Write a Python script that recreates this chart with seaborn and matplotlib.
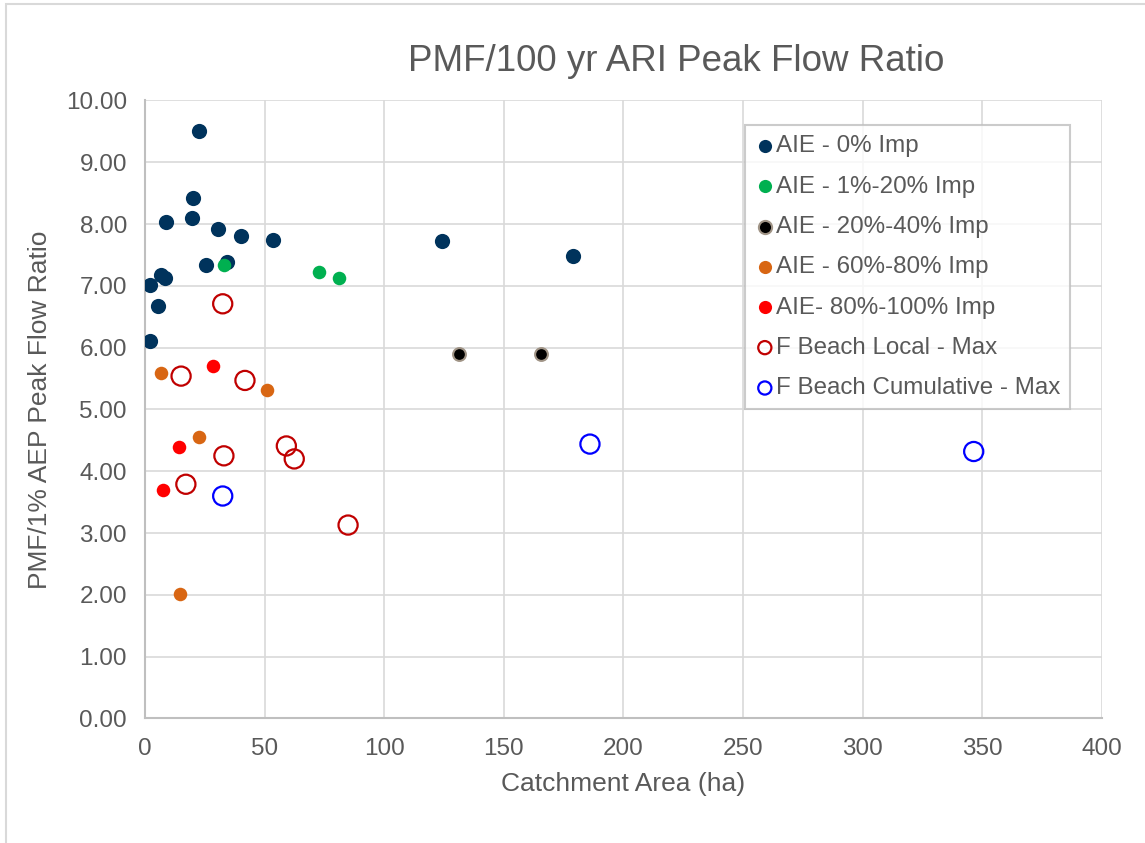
import matplotlib
matplotlib.use("Agg")
import matplotlib.pyplot as plt
import matplotlib.patches as patches
import seaborn as sns

# Dados
area_0imp = [22.6, 20.2, 8.7, 19.8, 30.5, 40.1, 53.6, 25.5, 34.4, 6.6, 8.5, 2.0, 5.4, 2.0, 124.3, 179.1]
ratio_0imp = [9.50, 8.43, 8.03, 8.10, 7.92, 7.80, 7.75, 7.33, 7.39, 7.17, 7.13, 7.01, 6.68, 6.11, 7.73, 7.48]

area_1_20 = [32.9, 72.7, 81.1]
ratio_1_20 = [7.34, 7.22, 7.12]

area_20_40 = [131.4, 165.7]
ratio_20_40 = [5.89, 5.89]

area_60_80 = [6.7, 50.9, 22.7, 14.5]
ratio_60_80 = [5.59, 5.32, 4.56, 2.01]

area_80_100 = [28.3, 14.2, 7.7]
ratio_80_100 = [5.70, 4.40, 3.69]

area_local = [32.5, 15.1, 41.8, 33.0, 59.1, 62.4, 17.1, 84.9]
ratio_local = [6.71, 5.54, 5.47, 4.25, 4.41, 4.20, 3.79, 3.13]

area_cum = [32.5, 186.0, 346.4]
ratio_cum = [3.60, 4.44, 4.32]

x_ticks = [0, 50, 100, 150, 200, 250, 300, 350, 400]
y_ticks = [0, 1, 2, 3, 4, 5, 6, 7, 8, 9, 10]

# Estilo
sns.set_theme(style="whitegrid")
plt.rcParams["font.family"] = ["Liberation Sans", "DejaVu Sans"]

cinza_texto = "#595959"

fig = plt.figure(figsize=(11.45, 8.43), dpi=100)
ax = fig.add_axes([0.1266, 0.1477, 0.8358, 0.7331])

series = [
    (area_0imp, ratio_0imp, "AIE - 0% Imp", dict(color="#00335C", s=120, edgecolor="#00335C", linewidth=0)),
    (area_1_20, ratio_1_20, "AIE - 1%-20% Imp", dict(color="#00B050", s=95, edgecolor="#00B050", linewidth=0)),
    (area_20_40, ratio_20_40, "AIE - 20%-40% Imp", dict(color="black", s=85, edgecolor="#A09486", linewidth=1.5)),
    (area_60_80, ratio_60_80, "AIE - 60%-80% Imp", dict(color="#D86613", s=95, edgecolor="#D86613", linewidth=0)),
    (area_80_100, ratio_80_100, "AIE- 80%-100% Imp", dict(color="#FF0000", s=95, edgecolor="#FF0000", linewidth=0)),
    (area_local, ratio_local, "F Beach Local - Max", dict(color="none", s=190, edgecolor="#C00000", linewidth=1.6)),
    (area_cum, ratio_cum, "F Beach Cumulative - Max", dict(color="none", s=190, edgecolor="#0000FF", linewidth=1.6)),
]

for x, y, nome, estilo in series:
    sns.scatterplot(x=x, y=y, label=nome, ax=ax, zorder=3, **estilo)

ax.set_xlim(0, 400)
ax.set_ylim(0, 10)
ax.set_xticks(x_ticks)
ax.set_yticks(y_ticks)
ax.set_yticklabels([f"{v:.2f}" for v in y_ticks])

ax.grid(True, color="#D9D9D9", linewidth=1.2)
for lado in ["top", "right"]:
    ax.spines[lado].set_visible(False)
for lado in ["left", "bottom"]:
    ax.spines[lado].set_color("#BFBFBF")
    ax.spines[lado].set_linewidth(1.5)
ax.tick_params(axis="both", labelsize=17.5, colors=cinza_texto, length=0)
ax.tick_params(axis="y", pad=13)
ax.tick_params(axis="x", pad=14)

ax.set_xlabel("Catchment Area (ha)", fontsize=19, color=cinza_texto, labelpad=9)
ax.set_ylabel("PMF/1% AEP Peak Flow Ratio", fontsize=19, color=cinza_texto, labelpad=10)

fig.text(0.5905, 0.927, "PMF/100 yr ARI Peak Flow Ratio", fontsize=26.5,
         color=cinza_texto, ha="center", va="center")

leg = ax.legend(loc="upper left", bbox_to_anchor=(745 / 1145, 1 - 125 / 843),
                bbox_transform=fig.transFigure, fontsize=17.4, frameon=True,
                fancybox=False, handletextpad=0.05,
                handlelength=0.8, labelspacing=0.76, borderpad=0.42,
                borderaxespad=0)
leg.get_frame().set_edgecolor("#BFBFBF")
leg.get_frame().set_linewidth(1.5)
for t in leg.get_texts():
    t.set_color(cinza_texto)
for h in leg.legend_handles:
    h.set_sizes([90])

# Moldura externa do gráfico
fig.patches.append(patches.Rectangle((0.005, -0.05), 1.2, 1.045, transform=fig.transFigure,
                                     fill=False, edgecolor="#D9D9D9", linewidth=1.5))

fig.savefig("out.png", dpi=100)
